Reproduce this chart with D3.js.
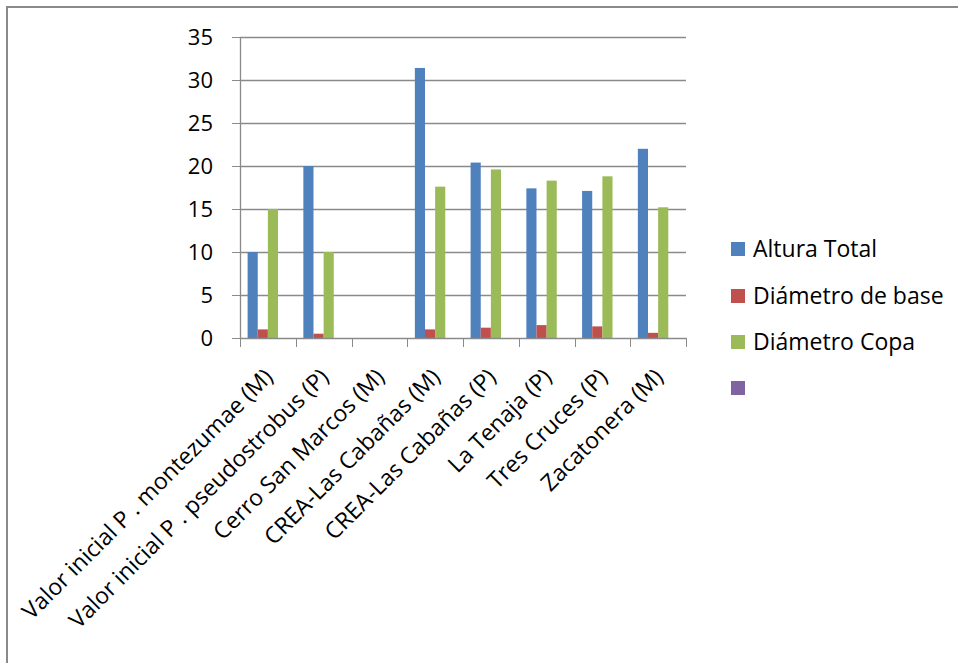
<!DOCTYPE html>
<html>
<head>
<meta charset="utf-8">
<script src="https://cdn.jsdelivr.net/npm/d3@7"></script>
<style>
  html, body { margin: 0; padding: 0; background: #fff; }
  svg { display: block; }
  text { font-family: "Open Sans", Lato, sans-serif; fill: #000; }
</style>
</head>
<body>
<svg id="chart" width="958" height="663"></svg>
<script>
const categories = [
  "Valor inicial P . montezumae (M)",
  "Valor inicial P . pseudostrobus (P)",
  "Cerro San Marcos (M)",
  "CREA-Las Cabañas (M)",
  "CREA-Las Cabañas (P)",
  "La Tenaja (P)",
  "Tres Cruces (P)",
  "Zacatonera (M)"
];
const seriesNames = ["Altura Total", "Diámetro de base", "Diámetro Copa", ""];
const alturaTotal   = [10, 20, null, 31.4, 20.4, 17.4, 17.1, 22.0];
const diametroBase  = [1.0, 0.5, null, 1.0, 1.2, 1.5, 1.35, 0.6];
const diametroCopa  = [15, 10, null, 17.6, 19.6, 18.3, 18.8, 15.2];
const serie4        = [null, null, null, null, null, null, null, null];
const yTicks = [0, 5, 10, 15, 20, 25, 30, 35];
const colors = ["#4F81BD", "#C0504D", "#9BBB59", "#8064A2"];

const seriesValues = [alturaTotal, diametroBase, diametroCopa, serie4];

const svg = d3.select("#chart");
const W = 958, H = 663;
svg.append("rect").attr("width", W).attr("height", H).attr("fill", "#fff");

// outer chart border (only top & left visible)
svg.append("path")
  .attr("d", `M7,${H} V7 H${W}`)
  .attr("fill", "none").attr("stroke", "#8a8a8a").attr("stroke-width", 2);

const plot = { left: 240, right: 686, top: 37, bottom: 338 };

const x0 = d3.scaleBand().domain(categories).range([plot.left, plot.right]).padding(0);
const bw = x0.bandwidth();
const gap = bw / 5.5 * 1.5;
const x1 = d3.scaleBand().domain(d3.range(seriesNames.length))
  .range([gap / 2, bw - gap / 2]).padding(0);
const y = d3.scaleLinear().domain([0, 35]).range([plot.bottom, plot.top]);

// y axis ticks & labels
const gAxisY = svg.append("g").attr("transform", `translate(${plot.left},0)`)
  .call(d3.axisLeft(y).tickValues(yTicks).tickSize(8).tickPadding(19).tickFormat(d3.format("d")));
gAxisY.select(".domain").remove();
gAxisY.selectAll(".tick line").attr("stroke", "#8a8a8a");
gAxisY.selectAll(".tick text").attr("font-size", 22).style("font-family", "'Open Sans', sans-serif").attr("fill", "#000");

// gridlines
svg.append("g").selectAll("line").data(yTicks.filter(d => d > 0)).join("line")
  .attr("x1", plot.left).attr("x2", plot.right)
  .attr("y1", d => Math.round(y(d)) + 0.5).attr("y2", d => Math.round(y(d)) + 0.5)
  .attr("stroke", "#8a8a8a").attr("stroke-width", 1.3);

// bars
const groups = svg.append("g").selectAll("g").data(categories).join("g")
  .attr("transform", d => `translate(${x0(d)},0)`);
groups.selectAll("rect")
  .data((d, i) => seriesValues.map((s, k) => ({ k, v: s[i] })).filter(e => e.v != null))
  .join("rect")
  .attr("x", d => x1(d.k))
  .attr("width", x1.bandwidth())
  .attr("y", d => y(d.v))
  .attr("height", d => y(0) - y(d.v))
  .attr("fill", d => colors[d.k]);

// y axis line
svg.append("line").attr("x1", plot.left + 0.5).attr("x2", plot.left + 0.5)
  .attr("y1", plot.top).attr("y2", plot.bottom)
  .attr("stroke", "#8a8a8a").attr("stroke-width", 1.3);

// x axis
const gAxisX = svg.append("g").attr("transform", `translate(0,${plot.bottom})`)
  .call(d3.axisBottom(x0).tickSize(0).tickFormat(""));
gAxisX.select(".domain").attr("stroke", "#8a8a8a").attr("stroke-width", 1.3);
gAxisX.selectAll(".tick").remove();
const boundaries = categories.map(c => x0(c)).concat([plot.right]);
svg.append("g").selectAll("line").data(boundaries).join("line")
  .attr("x1", d => Math.round(d) + 0.5).attr("x2", d => Math.round(d) + 0.5)
  .attr("y1", plot.bottom).attr("y2", plot.bottom + 9)
  .attr("stroke", "#8a8a8a");

// x labels, rotated -45
svg.append("g").selectAll("text").data(categories).join("text")
  .attr("transform", d => `translate(${x0(d) + bw / 2 - 5},${plot.bottom + 29}) rotate(-45)`)
  .attr("text-anchor", "end")
  .attr("dy", "0.7em")
  .attr("font-size", 23)
  .text(d => d);

// legend
const legend = svg.append("g").attr("transform", "translate(731,0)");
const ly = [249, 296, 342, 388];
seriesNames.forEach((name, i) => {
  legend.append("rect").attr("x", 0).attr("y", ly[i] - 7).attr("width", 14).attr("height", 14)
    .attr("fill", colors[i]);
  legend.append("text").attr("x", 22).attr("y", ly[i]).attr("dy", "0.35em")
    .attr("font-size", 23).text(name);
});
</script>
</body>
</html>
